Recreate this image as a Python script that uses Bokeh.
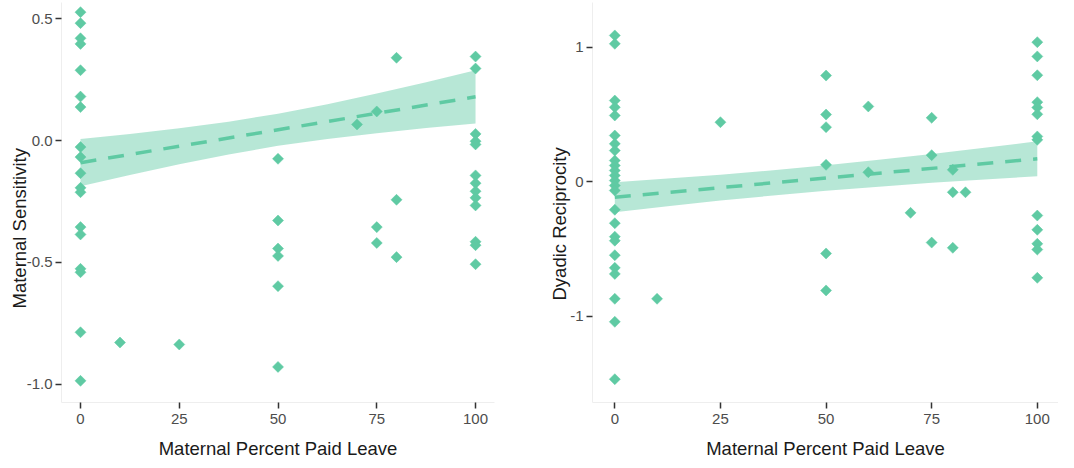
import math
from bokeh.plotting import figure
from bokeh.layouts import row
from bokeh.models import Range1d, FixedTicker, NumeralTickFormatter, Title
from bokeh.embed import file_html
from bokeh.resources import INLINE

# ---------------- data ----------------
# Left panel: Maternal Sensitivity vs Maternal Percent Paid Leave
ms_leave = [0]*18 + [10, 25] + [50]*6 + [70] + [75]*3 + [80]*3 + [100]*13
ms_sens = [0.526, 0.481, 0.419, 0.396, 0.288, 0.180, 0.137, -0.027, -0.068,
           -0.134, -0.194, -0.212, -0.355, -0.385, -0.526, -0.540, -0.786, -0.985,
           -0.828, -0.836,
           -0.075, -0.328, -0.443, -0.473, -0.597, -0.928,
           0.066,
           0.119, -0.355, -0.420,
           0.339, -0.243, -0.478,
           0.344, 0.295, 0.027, -0.003, -0.016, -0.143, -0.175, -0.208, -0.235,
           -0.266, -0.415, -0.429, -0.507]

# Right panel: Dyadic Reciprocity vs Maternal Percent Paid Leave
dr_leave = [0]*25 + [10, 25] + [50]*6 + [60]*2 + [70] + [75]*3 + [80]*3 + [83] + [100]*13
dr_recip = [1.086, 1.024, 0.602, 0.552, 0.491, 0.342, 0.280, 0.230, 0.156, 0.119,
            0.082, 0.045, 0.007, -0.030, -0.067, -0.210, -0.310, -0.410, -0.440,
            -0.548, -0.642, -0.687, -0.872, -1.043, -1.470,
            -0.872, 0.441,
            0.788, 0.498, 0.404, 0.124, -0.535, -0.810,
            0.558, 0.069,
            -0.233,
            0.474, 0.196, -0.454,
            0.087, -0.080, -0.493,
            -0.080,
            1.036, 0.930, 0.790, 0.590, 0.550, 0.500, 0.335, 0.310, -0.253, -0.359,
            -0.463, -0.506, -0.716]

# Fitted lines and confidence bands
fit_x = [0, 100]
ms_fit = [-0.091, 0.179]
dr_fit = [-0.117, 0.169]
band_x = [0, 12.5, 25, 37.5, 50, 62.5, 75, 87.5, 100]
ms_upper = [0.006, 0.027, 0.050, 0.077, 0.110, 0.149, 0.193, 0.239, 0.288]
ms_lower = [-0.188, -0.141, -0.097, -0.057, -0.022, 0.006, 0.030, 0.051, 0.070]
dr_upper = [-0.005, 0.022, 0.051, 0.084, 0.121, 0.162, 0.205, 0.251, 0.299]
dr_lower = [-0.228, -0.184, -0.142, -0.104, -0.069, -0.038, -0.010, 0.015, 0.039]

x_ticks = [0, 25, 50, 75, 100]
ms_ticks = [-1.0, -0.5, 0.0, 0.5]
dr_ticks = [-1, 0, 1]
x_title = "Maternal Percent Paid Leave"
ms_title = "Maternal Sensitivity"
dr_title = "Dyadic Reciprocity"

# ---------------- styling ----------------
GREEN = "#5fcaa3"
FONT = "Liberation Sans"
TICK_COLOR = "#4d4d4d"
TITLE_COLOR = "#1a1a1a"


def make_panel(xs, ys, fx, fy, bx, lo, hi, xr, yr, yticks, yfmt, ytitle,
               title_offset, title_standoff, width, border_left, border_right):
    p = figure(width=width, height=462, x_range=Range1d(*xr), y_range=Range1d(*yr),
               output_backend="svg", toolbar_location=None,
               min_border_left=border_left, min_border_right=border_right,
               min_border_top=2, min_border_bottom=60)
    p.outline_line_color = None
    p.grid.visible = False
    p.background_fill_color = "white"

    p.varea(x=bx, y1=lo, y2=hi, fill_color=GREEN, fill_alpha=0.45)
    p.line(x=fx, y=fy, line_color=GREEN, line_width=3.5, line_dash="16 12")
    p.scatter(x=xs, y=ys, marker="square", angle=math.pi / 4, size=7.8,
              fill_color=GREEN, line_color=GREEN, line_width=0.5)

    for ax in (p.xaxis[0], p.yaxis[0]):
        ax.axis_line_color = "#eeeeee"
        ax.axis_line_width = 1
        ax.major_tick_line_color = "#333333"
        ax.major_tick_line_width = 1.5
        ax.major_tick_in = 0
        ax.major_tick_out = 6
        ax.minor_tick_line_color = None
        ax.major_label_text_font = FONT
        ax.major_label_text_font_size = "15px"
        ax.major_label_text_color = TICK_COLOR

    p.xaxis.ticker = FixedTicker(ticks=x_ticks)
    p.xaxis.major_label_standoff = 5
    p.xaxis.axis_label = x_title
    p.xaxis.axis_label_text_font = FONT
    p.xaxis.axis_label_text_font_size = "18.5px"
    p.xaxis.axis_label_text_font_style = "normal"
    p.xaxis.axis_label_text_color = TITLE_COLOR
    p.xaxis.axis_label_standoff = 11

    p.yaxis.ticker = FixedTicker(ticks=yticks)
    p.yaxis.formatter = NumeralTickFormatter(format=yfmt)
    p.yaxis.major_label_standoff = 3

    t = Title(text=ytitle, align="left", vertical_align="bottom",
              offset=title_offset, standoff=title_standoff,
              text_font=FONT, text_font_size="18.5px", text_font_style="normal",
              text_color=TITLE_COLOR)
    p.add_layout(t, "left")
    return p


p1 = make_panel(ms_leave, ms_sens, fit_x, ms_fit, band_x, ms_lower, ms_upper,
                (-4.81, 104.8), (-1.0738, 0.5656), ms_ticks, "0.0", ms_title,
                94, -12, 537, 61, 43)
p2 = make_panel(dr_leave, dr_recip, fit_x, dr_fit, band_x, dr_lower, dr_upper,
                (-5.28, 105.02), (-1.643, 1.331), dr_ticks, "0", dr_title,
                102, -5, 521, 55, 0)

layout = row(p1, p2)
open("out.html", "w").write(file_html(layout, INLINE))
